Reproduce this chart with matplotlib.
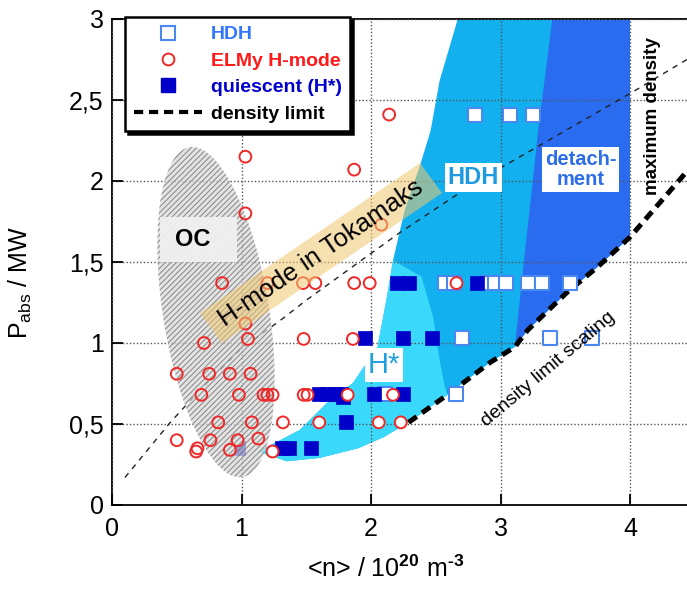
import numpy as np
import matplotlib
matplotlib.use('Agg')
import matplotlib.pyplot as plt
from matplotlib.patches import Polygon, Rectangle
from matplotlib.lines import Line2D

plt.rcParams['font.family'] = ['Liberation Sans', 'DejaVu Sans']
plt.rcParams['mathtext.fontset'] = 'custom'
plt.rcParams['mathtext.rm'] = 'Liberation Sans'
plt.rcParams['mathtext.it'] = 'Liberation Sans'
plt.rcParams['mathtext.bf'] = 'Liberation Sans:bold'
plt.rcParams['hatch.linewidth'] = 0.8

# ---------------- data ----------------
hdh_n = [2.80, 3.07, 3.25, 2.57, 2.64, 2.90, 2.96, 3.04, 3.21, 3.32, 3.54, 2.70, 3.38, 3.71, 2.11, 2.66]
hdh_p = [2.41, 2.41, 2.41, 1.37, 1.37, 1.37, 1.37, 1.37, 1.37, 1.37, 1.37, 1.03, 1.03, 1.03, 0.685, 0.685]

elmy_n = [2.14, 1.03, 1.87, 1.03, 2.08,
          0.85, 1.20, 1.475, 1.57, 1.87, 1.99, 2.66,
          1.03, 1.05, 1.48, 1.86, 0.71,
          0.50, 0.75, 0.91, 1.07,
          0.69, 0.98, 1.17, 1.20, 1.24, 1.48, 1.51, 1.82, 2.17,
          0.82, 1.08, 1.32, 1.60, 2.06, 2.23,
          0.50, 0.76, 0.97, 1.13, 0.66, 0.91, 1.24, 0.65]
elmy_p = [2.41, 2.15, 2.07, 1.80, 1.73,
          1.37, 1.37, 1.37, 1.37, 1.37, 1.37, 1.37,
          1.12, 1.025, 1.025, 1.025, 1.00,
          0.81, 0.81, 0.81, 0.81,
          0.68, 0.68, 0.68, 0.68, 0.68, 0.68, 0.68, 0.68, 0.68,
          0.51, 0.51, 0.51, 0.51, 0.51, 0.51,
          0.40, 0.40, 0.40, 0.41, 0.35, 0.34, 0.33, 0.33]

quies_n = [2.20, 2.29, 2.82, 1.95, 2.25, 2.47, 1.60, 1.66, 1.72, 1.77, 1.78, 2.02, 2.25, 1.81, 0.97, 1.31, 1.37, 1.54]
quies_p = [1.37, 1.37, 1.37, 1.03, 1.03, 1.03, 0.685, 0.685, 0.685, 0.685, 0.665, 0.685, 0.685, 0.51, 0.35, 0.35, 0.35, 0.35]

# density limit scaling (thick dashed)
dl_n = [2.29, 2.59, 2.92, 3.11, 3.21, 3.51, 3.75, 4.00, 4.44]
dl_p = [0.51, 0.68, 0.88, 0.975, 1.08, 1.31, 1.47, 1.654, 2.06]

# thin dashed curve
thin_n = [0.10, 0.45, 0.68, 0.99, 1.30, 1.51, 2.22, 2.69, 3.02, 4.00, 4.44]
thin_p = [0.17, 0.51, 0.71, 0.96, 1.14, 1.27, 1.68, 1.93, 2.09, 2.54, 2.75]

# operational regions (outlines)
left_n = [2.67, 2.53, 2.46, 2.38, 2.26, 2.17, 2.12, 2.05, 1.86, 1.66, 1.45, 1.13]
left_p = [3.00, 2.62, 2.31, 2.10, 1.82, 1.51, 1.27, 0.975, 0.753, 0.63, 0.463, 0.33]
bottom_n = [1.35, 1.60, 1.90, 2.10]
bottom_p = [0.27, 0.29, 0.35, 0.42]
hstar_n = [2.57, 2.53, 2.48, 2.39]
hstar_p = [0.73, 0.895, 1.16, 1.41]
det_n = [3.19, 3.25, 3.30, 3.34, 3.40]
det_p = [1.57, 2.01, 2.38, 2.62, 3.00]

x_ticks = [0, 1, 2, 3, 4]
x_ticklabels = ['0', '1', '2', '3', '4']
y_ticks = [0, 0.5, 1, 1.5, 2, 2.5, 3]
y_ticklabels = ['0', '0,5', '1', '1,5', '2', '2,5', '3']

# ---------------- figure ----------------
W, H = 687, 596
fig = plt.figure(figsize=(W / 100, H / 100), dpi=100)
ax_l, ax_b, ax_r, ax_t = 112, 505, 687, 19
ax = fig.add_axes([ax_l / W, 1 - ax_b / H, (ax_r - ax_l) / W, (ax_b - ax_t) / H])
XMAX = 4.44
ax.set_xlim(0, XMAX)
ax.set_ylim(0, 3)
pxx = (ax_r - ax_l) / XMAX
pxy = (ax_b - ax_t) / 3.0

c_hstar = '#3ad9fb'
c_hdh = '#12b0ef'
c_det = '#2a6cf0'

# HDH (medium) region: outer boundary
dl = list(zip(dl_n, dl_p))
dl_to4 = [p for p in dl if p[0] <= 4.0]
outer = list(zip(left_n, left_p)) + list(zip(bottom_n, bottom_p)) + dl_to4 + [(4.0, 3.0)]
ax.add_patch(Polygon(outer, closed=True, facecolor=c_hdh, edgecolor='none', zorder=1))

# H* region
i_top = left_n.index(2.17)
hs = list(zip(left_n[i_top:], left_p[i_top:])) + list(zip(bottom_n, bottom_p)) \
    + [p for p in dl if p[0] <= 2.6] + list(zip(hstar_n, hstar_p))
ax.add_patch(Polygon(hs, closed=True, facecolor=c_hstar, edgecolor='none', zorder=1.1))

# detachment region
det = list(zip(det_n, det_p)) + [(4.0, 3.0)] + [p for p in dl_to4 if p[0] >= 3.11][::-1]
ax.add_patch(Polygon(det, closed=True, facecolor=c_det, edgecolor='none', zorder=1.2))

# grid above regions
ax.set_axisbelow(False)
ax.grid(True, color='#555555', linestyle=(0, (1, 1.5)), linewidth=1.0)

# curves
ax.plot(thin_n, thin_p, color='#222222', lw=1.0, ls=(0, (4, 4)), zorder=3)
ax.plot(dl_n, dl_p, color='black', lw=3.6, ls=(0, (2.0, 1.3)), zorder=3.5, solid_capstyle='butt')

# markers
ax.scatter(hdh_n, hdh_p, marker='s', s=92, facecolor='white', edgecolor='#4a88f0', linewidth=1.5, zorder=4)
ax.scatter(quies_n, quies_p, marker='s', s=100, facecolor='#0000c8', edgecolor='#0000c8', linewidth=0.5, zorder=4.5)
ax.scatter(elmy_n, elmy_p, marker='o', s=72, facecolor='white', edgecolor='none', zorder=5)
ax.scatter(elmy_n, elmy_p, marker='o', s=72, facecolor='none', edgecolor='#f02828', linewidth=1.4, zorder=5.8)

# OC ellipse (hatched)
cx, cy = 0.803, 1.191
a_px, b_px, tilt = 167, 53, np.deg2rad(9.1)
t = np.linspace(0, 2 * np.pi, 200)
ux, uy = -np.sin(tilt), np.cos(tilt)
vx, vy = np.cos(tilt), np.sin(tilt)
ex = cx + (a_px * np.cos(t) * ux + b_px * np.sin(t) * vx) / pxx
ey = cy + (a_px * np.cos(t) * uy + b_px * np.sin(t) * vy) / pxy
ax.add_patch(Polygon(np.column_stack([ex, ey]), closed=True, facecolor='#dadada', edgecolor='#6e6e6e',
                     linewidth=0, hatch='//////', alpha=0.72, zorder=5.5))
ax.add_patch(Rectangle((0.37, 1.50), 0.595, 0.28, facecolor='#f0f0f0', edgecolor='none', alpha=0.95, zorder=5.6))
ax.text(0.62, 1.64, 'OC', fontsize=17, fontweight='bold', ha='center', va='center', zorder=5.7)

# H-mode in Tokamaks band
band = [(0.68, 1.185), (2.378, 2.111), (2.548, 1.926), (0.849, 1.0)]
ax.add_patch(Polygon(band, closed=True, facecolor='#f0c870', edgecolor='none', alpha=0.55, zorder=6))
ax.text(1.614, 1.556, 'H-mode in Tokamaks', fontsize=18.5, rotation=34.3, ha='center', va='center',
        rotation_mode='anchor', zorder=7)

# region labels
ax.text(2.79, 2.02, 'HDH', fontsize=17, fontweight='bold', color='#1e9be0', ha='center', va='center', zorder=7,
        bbox=dict(facecolor='white', edgecolor='none', pad=2))
ax.text(3.62, 2.07, 'detach-\nment', fontsize=14.5, fontweight='bold', color='#2d6ee8', ha='center', va='center',
        linespacing=1.05, zorder=7, bbox=dict(facecolor='white', edgecolor='none', pad=2))
ax.text(2.10, 0.865, 'H*', fontsize=21, color='#1ea0dc', ha='center', va='center', zorder=7,
        bbox=dict(facecolor='white', edgecolor='none', pad=2))
ax.text(4.17, 2.40, 'maximum density', fontsize=13.5, fontweight='bold', rotation=90, ha='center', va='center',
        zorder=7)
ax.text(3.37, 0.84, 'density limit scaling', fontsize=14, rotation=40, ha='center', va='center',
        rotation_mode='anchor', zorder=7)

# axes styling
ax.set_xticks(x_ticks)
ax.set_xticklabels(x_ticklabels)
ax.set_yticks(y_ticks)
ax.set_yticklabels(y_ticklabels)
ax.tick_params(axis='both', direction='in', length=8, width=1.3, labelsize=18, colors='black')
ax.tick_params(axis='x', pad=9)
ax.tick_params(axis='y', pad=6)
for s in ['left', 'bottom', 'top']:
    ax.spines[s].set_linewidth(1.3)
    ax.spines[s].set_color('black')
ax.spines['right'].set_visible(False)

ax.set_xlabel('<n> / 10$^{\\mathbf{20}}$ m$^{\\mathbf{\u20103}}$', fontsize=18)
ax.xaxis.set_label_coords(0.475, -0.105)
ax.set_ylabel(r'P$_{\mathregular{abs}}$ / MW', fontsize=18)
ax.yaxis.set_label_coords(-0.135, 0.457)

# legend
handles = [
    Line2D([], [], marker='s', ls='none', mfc='white', mec='#4a88f0', ms=10, mew=1.5),
    Line2D([], [], marker='o', ls='none', mfc='white', mec='#f02828', ms=8.5, mew=1.4),
    Line2D([], [], marker='s', ls='none', mfc='#0000c8', mec='#0000c8', ms=10),
    Line2D([], [], color='black', lw=3, ls=(0, (2.2, 1.4))),
]
labels = ['HDH', 'ELMy H-mode', 'quiescent (H*)', 'density limit']
leg = ax.legend(handles, labels, loc='upper left', bbox_to_anchor=(0.0226, 1.004), borderaxespad=0,
                prop={'size': 14, 'weight': 'bold'}, handlelength=3.5, handletextpad=0.45,
                labelspacing=0.45, borderpad=0.45, fancybox=False, framealpha=1,
                shadow={'color': 'black', 'alpha': 1.0}, edgecolor='black')
leg.get_frame().set_linewidth(1.8)
leg.set_zorder(10)
for txt, col in zip(leg.get_texts(), ['#3377ff', '#ff1a1a', '#0000cc', 'black']):
    txt.set_color(col)

fig.savefig('out.png', dpi=100)
